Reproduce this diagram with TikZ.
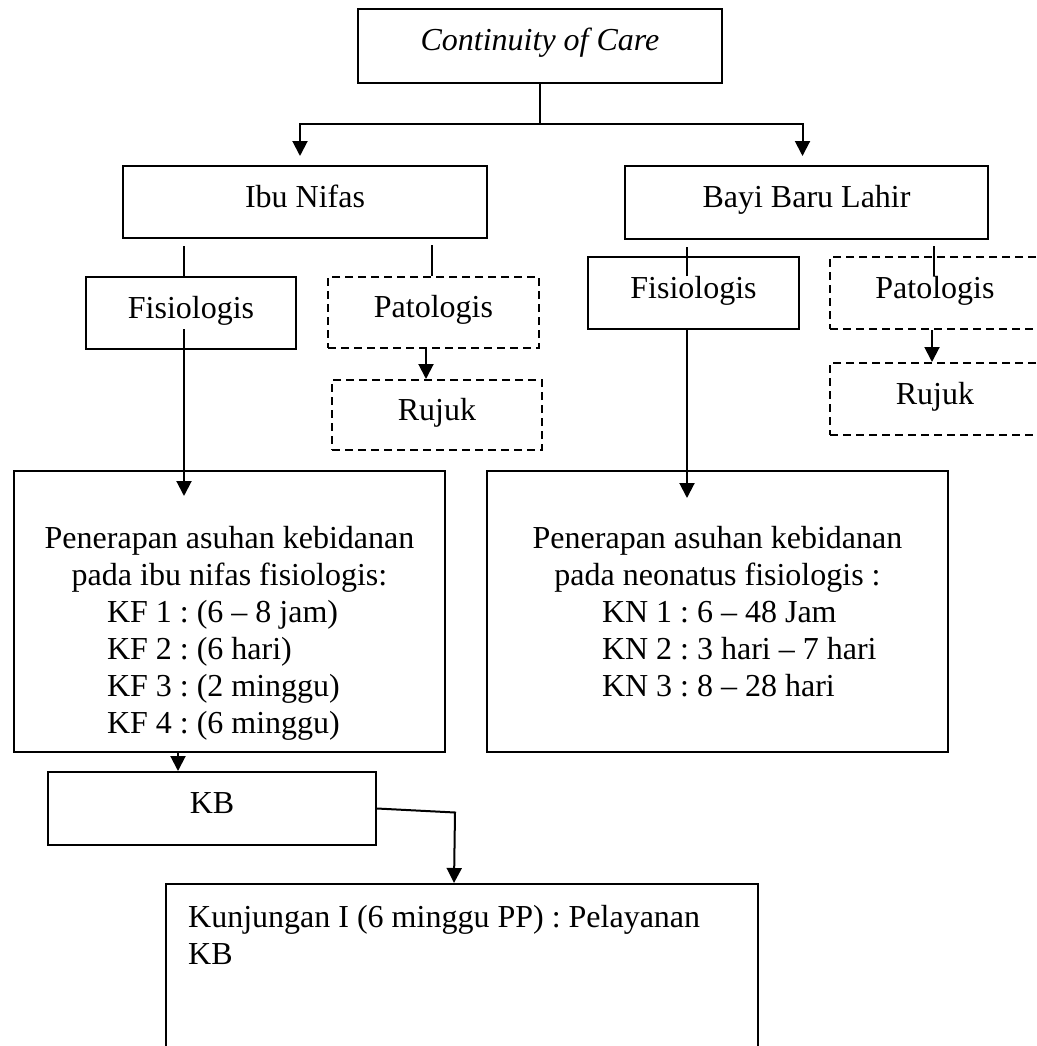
\documentclass[tikz,border=0pt]{standalone}
\usepackage{fontspec}
\setmainfont{Liberation Serif}
\usetikzlibrary{arrows.meta}
\frenchspacing

\tikzset{
    box/.style={draw, line width=2pt, inner sep=0pt, text height=20pt, text depth=10pt},
    dbox/.style={box, dash pattern=on 8pt off 5pt},
    conn/.style={line width=2pt},
    arr/.style={conn, -{Triangle[length=15pt,width=15pt]}},
    txt/.style={inner sep=0pt, align=center}
}

\begin{document}
\begin{tikzpicture}[x=1pt, y=-1pt, font=\fontsize{32}{37}\selectfont]
    \useasboundingbox (0,0) rectangle (1036,1046);

    \node[box, minimum width=364pt, minimum height=74pt] (cont) at (540,46) {\textit{Continuity of Care}};
    \node[box, minimum width=364pt, minimum height=72pt] (ibu) at (305,202) {Ibu Nifas};
    \node[box, minimum width=363pt, minimum height=73pt] (bayi) at (806.5,202.5) {Bayi Baru Lahir};

    \node[box, minimum width=210pt, minimum height=72pt] (ibufis) at (191,313) {Fisiologis};
    \node[dbox, minimum width=211pt, minimum height=71pt] (ibupat) at (433.5,312.5) {Patologis};
    \node[dbox, minimum width=210pt, minimum height=70pt] (iburuj) at (437,415) {Rujuk};

    \node[box, minimum width=211pt, minimum height=72pt] (bayifis) at (693.5,293) {Fisiologis};
    \node[dbox, minimum width=210pt, minimum height=72pt] (bayipat) at (935,293) {Patologis};
    \node[dbox, minimum width=210pt, minimum height=72pt] (bayiruj) at (935,399) {Rujuk};

    \node[box, minimum width=431pt, minimum height=281pt] (ibucare) at (229.5,611.5) {};
    \node[txt, anchor=north] (ibucaretxt) at (229.5,526) {Penerapan asuhan kebidanan\\
        pada ibu nifas fisiologis:\\
        \makebox[245pt][l]{KF 1 : (6 -- 8 jam)}\\
        \makebox[245pt][l]{KF 2 : (6 hari)}\\
        \makebox[245pt][l]{KF 3 : (2 minggu)}\\
        \makebox[245pt][l]{KF 4 : (6 minggu)}};

    \node[box, minimum width=461pt, minimum height=281pt] (bayicare) at (717.5,611.5) {};
    \node[txt, anchor=north] (bayicaretxt) at (717.5,526) {Penerapan asuhan kebidanan\\
        pada neonatus fisiologis :\\
        \makebox[231pt][l]{KN 1 : 6 -- 48 Jam}\\
        \makebox[231pt][l]{KN 2 : 3 hari -- 7 hari}\\
        \makebox[231pt][l]{KN 3 : 8 -- 28 hari}};

    \node[box, minimum width=328pt, minimum height=73pt] (kb) at (212,808.5) {KB};
    \node[box, minimum width=592pt, minimum height=186pt] (kunj) at (462,977) {};
    \node[txt, align=left, anchor=north west] (kunjtxt) at (188,905) {Kunjungan I (6 minggu PP) : Pelayanan\\KB};

    \draw[conn] (cont.south) -- ++(0,40) coordinate (fork);
    \draw[arr] (fork) -| ([xshift=-5pt,yshift=9pt]ibu.north);
    \draw[arr] (fork) -| ([xshift=-4pt,yshift=9pt]bayi.north);

    \draw[conn] ([xshift=-7pt]ibufis.north) -- ++(0,-30);
    \draw[conn] ([xshift=-1.5pt]ibupat.north) -- ++(0,-31);
    \draw[arr] ([xshift=-7.5pt]ibupat.south) -- ([xshift=-11pt]iburuj.north);
    \draw[arr] ([xshift=-7pt,yshift=21pt]ibufis.south) -- ++(0,167);

    \draw[conn] ([xshift=-6.5pt,yshift=-20pt]bayifis.north) -- ++(0,-29);
    \draw[conn] ([xshift=-1pt,yshift=-20pt]bayipat.north) -- ++(0,-30);
    \draw[arr] ([xshift=-3pt]bayipat.south) -- ([xshift=-3pt]bayiruj.north);
    \draw[arr] ([xshift=-6.5pt]bayifis.south) -- ++(0,168);

    \draw[arr] ([xshift=-51.5pt]ibucare.south) -- ([xshift=-34pt]kb.north);
    \draw[arr] (kb.east) -- ++(78,4) -- ([xshift=-8pt]kunj.north);
\end{tikzpicture}
\end{document}
